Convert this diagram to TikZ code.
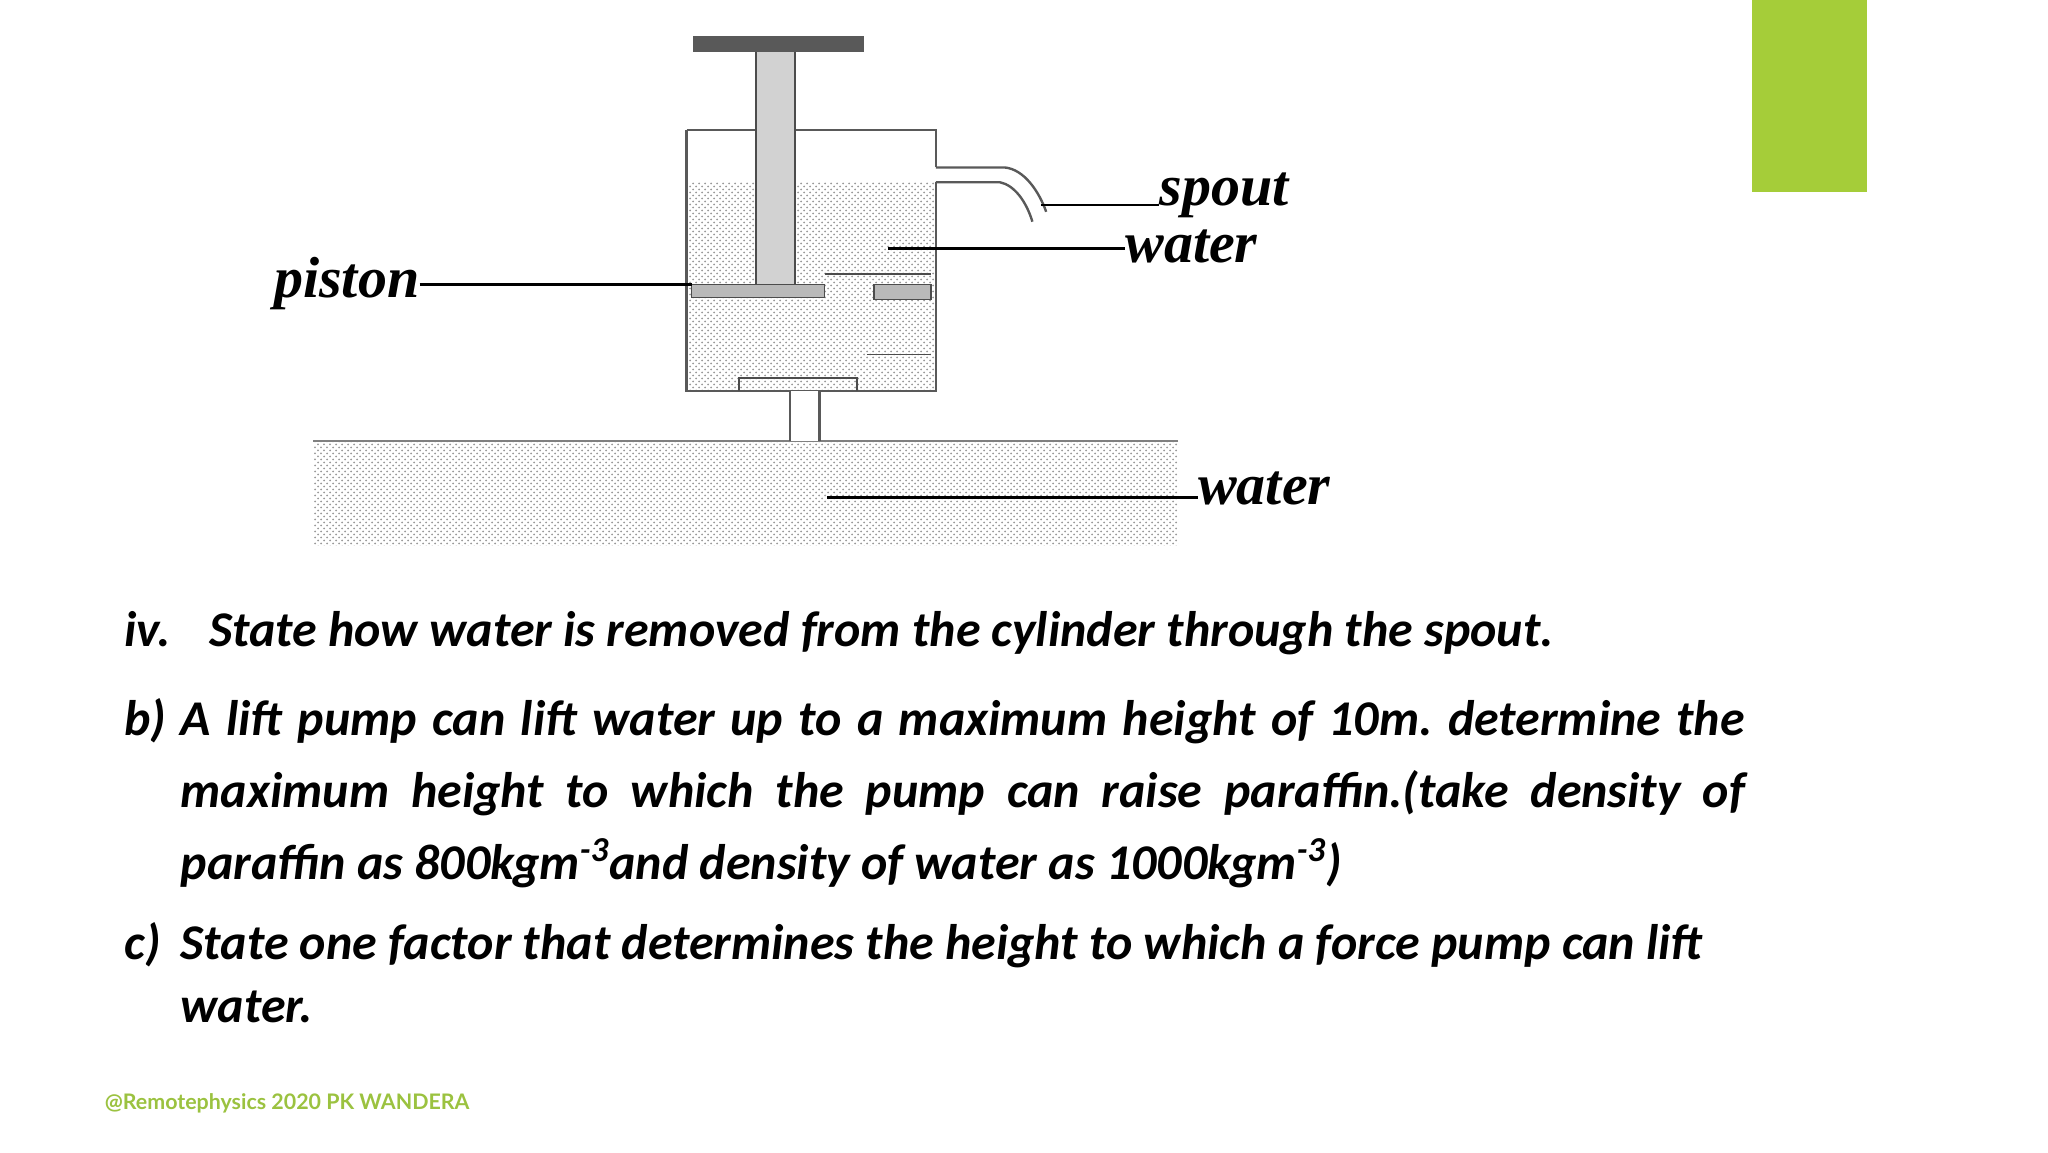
\documentclass[tikz,border=0pt]{standalone}
\usepackage{fontspec}
\setmainfont{Carlito}
\newfontfamily\footfont{Lato}
\newfontfamily\lblfont{Liberation Serif}
\usetikzlibrary{patterns}
\definecolor{lime}{HTML}{A5CD39}
\definecolor{foot}{HTML}{9BC240}
\tikzset{
  wat/.style={pattern=crosshatch dots, pattern color=gray!80},
  wall/.style={draw=gray!70!black, line width=1.2pt},
  lbl/.style={font=\lblfont\bfseries\itshape\fontsize{29}{29}\selectfont, inner sep=0pt},
  lead/.style={line width=1.3pt},
  body/.style={font=\bfseries\itshape\fontsize{25}{36}\selectfont\frenchspacing, inner sep=0pt, anchor=base west},
}
\newcommand\jline[1]{\makebox[782pt][s]{#1}}
\begin{document}
\begin{tikzpicture}[x=0.4925pt,y=-0.4925pt]
\useasboundingbox (0,0) rectangle (2079,1170);
\fill[lime] (1779,0) rectangle (1895,195);
% ground water
\fill[wat] (318,448) rectangle (1196,554);
\draw[gray, line width=1pt] (318,448) -- (1196,448);
% cylinder water
\fill[wat] (697,185) rectangle (950,397);
\draw[wall] (697,132) -- (950,132) -- (950,170);
\draw[wall] (697,132) -- (697,397) -- (950,397) -- (950,185);
% spout
\draw[wall] (950,170) -- (1020,170) .. controls (1040,172) and (1055,195) .. (1062,215);
\draw[wall] (950,185) -- (1015,185) .. controls (1030,188) and (1042,205) .. (1048,225);
% rod and handle
\fill[gray!35] (767,53) rectangle (807,289);
\draw[gray!60!black, line width=1pt] (767,53) -- (767,289) (807,53) -- (807,289);
\fill[gray!70!black] (703,37) rectangle (877,53);
% piston
\fill[gray!55] (702,289) rectangle (837,302);
\draw[gray!60!black, line width=0.8pt] (702,289) rectangle (837,302);
\fill[gray!55] (887,289) rectangle (945,304);
\draw[gray!60!black, line width=0.8pt] (887,289) rectangle (945,304);
\draw[gray!60!black, line width=0.8pt] (837,278) -- (945,278);
\draw[gray!60!black, line width=0.8pt] (880,360) -- (945,360);
% bottom valve
\draw[gray!60!black, line width=0.8pt] (750,397) -- (750,384) -- (870,384) -- (870,397);
% pipe
\fill[white] (802,397) rectangle (832,448);
\draw[wall] (802,397) -- (802,448) (832,397) -- (832,448);
% labels
\node[lbl, anchor=base west] (pis) at (278,302) {piston};
\coordinate (pisE) at (702,289);
\draw[lead] (pis.east |- pisE) -- (pisE);
\node[lbl, anchor=base west] (spo) at (1177,209) {spout};
\coordinate (spoE) at (1057,208);
\draw[lead] (spoE) -- (spo.west |- spoE);
\node[lbl, anchor=base west] (wa1) at (1142,266) {water};
\coordinate (wa1E) at (901,252);
\draw[lead] (wa1E) -- (wa1.west |- wa1E);
\node[lbl, anchor=base west] (wa2) at (1216,512) {water};
\coordinate (wa2E) at (840,505);
\draw[lead] (wa2E) -- (wa2.west |- wa2E);
% text
\node[body] (iv) at (126,656) {iv.};
\node[body] (ivt) at (212,656) {State how water is removed from the cylinder through the spout.};
\node[body] (bl) at (126,747) {b)};
\node[body] (b1) at (183,747) {\jline{A lift pump can lift water up to a maximum height of 10m. determine the}};
\node[body] (b2) at (183,820) {\jline{maximum height to which the pump can raise paraffin.(take density of}};
\node[body] (b3) at (183,893) {paraffin as 800kgm\textsuperscript{-3}and density of water as 1000kgm\textsuperscript{-3})};
\node[body] (cl) at (126,974) {c)};
\node[body] (c1) at (183,974) {State one factor that determines the height to which a force pump can lift};
\node[body] (c2) at (183,1038) {water.};
\node[font=\footfont\bfseries\fontsize{10.7}{13}\selectfont, text=foot, anchor=base west, inner sep=0pt] (ft) at (106,1126) {@Remotephysics 2020 PK WANDERA};
\end{tikzpicture}
\end{document}
